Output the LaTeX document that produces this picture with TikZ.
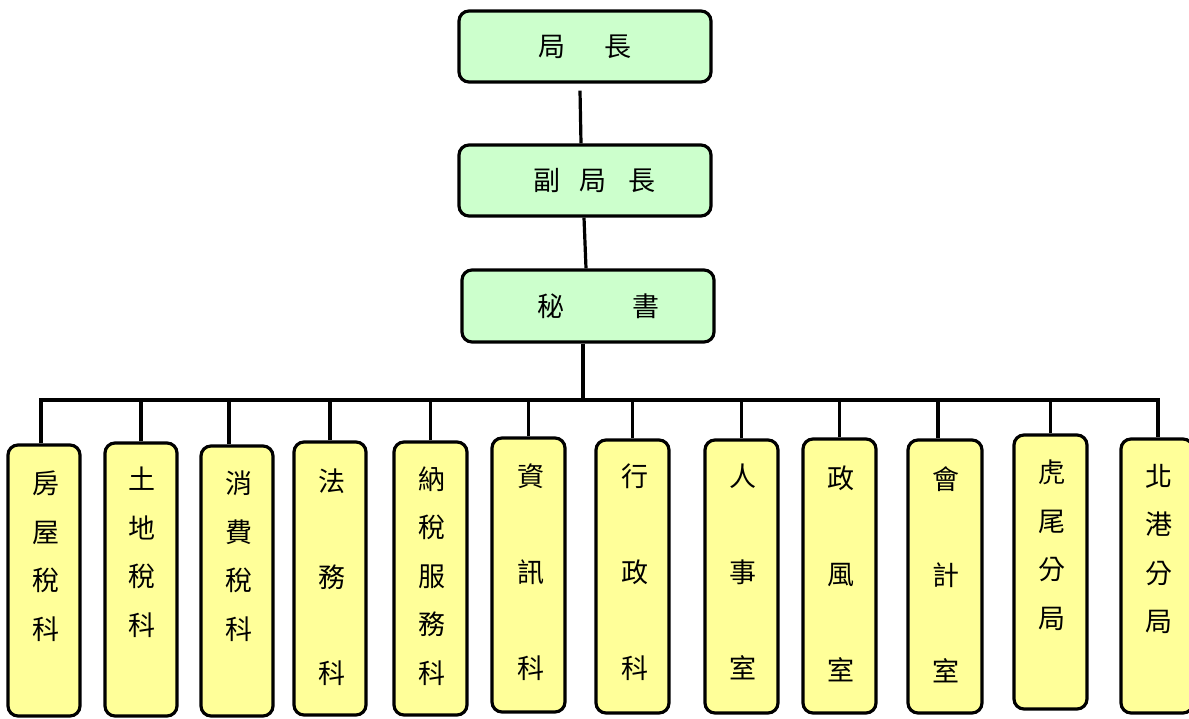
\documentclass[tikz,border=0pt]{standalone}
\usepackage{fontspec}
\setmainfont{Noto Sans CJK TC}
\usetikzlibrary{calc}
\definecolor{topfill}{HTML}{CCFFCC}
\definecolor{subfill}{HTML}{FFFF99}
\begin{document}
\begin{tikzpicture}[x=1pt,y=-1pt,
  topbox/.style={draw, line width=3.2pt, rounded corners=10pt, fill=topfill, minimum width=252pt, minimum height=71pt, inner sep=0pt, font=\fontsize{27}{27}\selectfont},
  subbox/.style={draw, line width=3.2pt, rounded corners=10pt, fill=subfill, inner sep=0pt},
  vtext/.style={align=center, inner sep=0pt, font=\fontsize{27}{48.5}\selectfont},
  vtextwide/.style={align=center, inner sep=0pt, font=\fontsize{27}{96}\selectfont},
  conn/.style={line width=3.2pt}]
\useasboundingbox (0,0) rectangle (1189,718);
\fill[white] (0,0) rectangle (1189,718);

% top chain
\node[topbox] (A) at (585,46.5) {\raisebox{-5pt}{局\hspace{39pt}長}\hspace{25pt}};
\node[topbox] (B) at (585,180.5) {\hspace{19pt}\raisebox{-4pt}{副\hspace{20pt}局\hspace{22pt}長}};
\node[topbox, minimum height=72pt] (C) at (588,306) {\hspace{21pt}\raisebox{-5pt}{秘\hspace{69pt}書}};

\coordinate (bus) at (0,400);

% sub boxes
\node[subbox, minimum width=72pt, minimum height=271pt] (c1) at (44,580.5) {};
\node[subbox, minimum width=72pt, minimum height=273pt] (c2) at (141,579.5) {};
\node[subbox, minimum width=72pt, minimum height=270pt] (c3) at (237,581) {};
\node[subbox, minimum width=72pt, minimum height=273pt] (c4) at (330,578.5) {};
\node[subbox, minimum width=73pt, minimum height=273pt] (c5) at (430.5,578.5) {};
\node[subbox, minimum width=73pt, minimum height=274pt] (c6) at (528.5,575) {};
\node[subbox, minimum width=73pt, minimum height=273pt] (c7) at (632.5,576.5) {};
\node[subbox, minimum width=73pt, minimum height=273pt] (c8) at (741.5,576.5) {};
\node[subbox, minimum width=73pt, minimum height=274pt] (c9) at (839.5,576) {};
\node[subbox, minimum width=74pt, minimum height=273pt] (c10) at (945,576.5) {};
\node[subbox, minimum width=73pt, minimum height=274pt] (c11) at (1050.5,572) {};
\node[subbox, minimum width=72pt, minimum height=274pt] (c12) at (1157,576) {};

% texts
\node[vtext] (t1) at (46,556) {房\\屋\\稅\\科};
\node[vtext] (t2) at (142,552) {土\\地\\稅\\科};
\node[vtext] (t3) at (239,556) {消\\費\\稅\\科};
\node[vtextwide] (t4) at (332,577) {法\\務\\科};
\node[vtext] (t5) at (432,576) {納\\稅\\服\\務\\科};
\node[vtextwide] (t6) at (531,572) {資\\訊\\科};
\node[vtextwide] (t7) at (635,572) {行\\政\\科};
\node[vtextwide] (t8) at (743,572) {人\\事\\室};
\node[vtextwide] (t9) at (841,574) {政\\風\\室};
\node[vtextwide] (t10) at (946,575) {會\\計\\室};
\node[vtext] (t11) at (1052,545) {虎\\尾\\分\\局};
\node[vtext] (t12) at (1159,549) {北\\港\\分\\局};

% connectors
\draw[conn] ([xshift=-5pt,yshift=-7pt]A.south) -- ([xshift=-4pt]B.north);
\draw[conn] ([xshift=-1pt]B.south) -- ([xshift=-2pt]C.north);
\draw[conn] ([xshift=-5pt]C.south) -- ([xshift=-5pt]C.south |- bus);
\draw[conn, line join=miter] ([xshift=-3pt]c1.north) -- ([xshift=-3pt]c1.north |- bus) -- ([xshift=1pt]c12.north |- bus) -- ([xshift=1pt]c12.north);
\draw[conn] (c2.north) -- (c2.north |- bus);
\draw[conn] ([xshift=-8pt]c3.north) -- ([xshift=-8pt]c3.north |- bus);
\draw[conn] (c4.north) -- (c4.north |- bus);
\draw[conn] (c5.north) -- (c5.north |- bus);
\draw[conn] (c6.north) -- (c6.north |- bus);
\draw[conn] (c7.north) -- (c7.north |- bus);
\draw[conn] (c8.north) -- (c8.north |- bus);
\draw[conn] (c9.north) -- (c9.north |- bus);
\draw[conn] ([xshift=-7pt]c10.north) -- ([xshift=-7pt]c10.north |- bus);
\draw[conn] (c11.north) -- (c11.north |- bus);
\end{tikzpicture}
\end{document}
